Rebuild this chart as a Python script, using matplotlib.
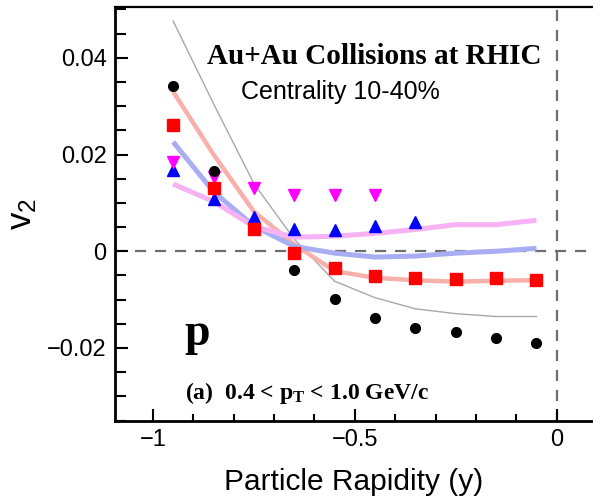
import matplotlib
matplotlib.use("Agg")
import matplotlib.pyplot as plt
from matplotlib.ticker import MultipleLocator
import numpy as np

# ---- data ----
y_rap = [-0.95, -0.85, -0.75, -0.65, -0.55, -0.45, -0.35, -0.25, -0.15, -0.05]

black_x = [-0.95, -0.85, -0.65, -0.55, -0.45, -0.35, -0.25, -0.15, -0.05]
black_v2 = [0.0342, 0.0166, -0.0039, -0.0098, -0.0137, -0.0158, -0.0168, -0.0180, -0.0190]

red_x = [-0.95, -0.85, -0.75, -0.65, -0.55, -0.45, -0.35, -0.25, -0.15, -0.05]
red_v2 = [0.0262, 0.0130, 0.0045, -0.0004, -0.0035, -0.0051, -0.0055, -0.0057, -0.0055, -0.0059]

blue_x = [-0.95, -0.85, -0.75, -0.65, -0.55, -0.45, -0.35]
blue_v2 = [0.0168, 0.0107, 0.0070, 0.0045, 0.0043, 0.0053, 0.0060]

mag_x = [-0.95, -0.85, -0.75, -0.65, -0.55, -0.45]
mag_v2 = [0.0185, 0.0154, 0.0130, 0.0117, 0.0117, 0.0117]

gray_curve = [0.0476, 0.0305, 0.0140, 0.0025, -0.0062, -0.0096, -0.0119, -0.0129, -0.0135, -0.0135]
red_curve = [0.0330, 0.0200, 0.0082, 0.0014, -0.0041, -0.0055, -0.0060, -0.0063, -0.0061, -0.0060]
blue_curve = [0.0226, 0.0123, 0.0052, 0.0010, -0.0004, -0.0012, -0.0010, -0.0004, 0.0000, 0.0006]
pink_curve = [0.0139, 0.0103, 0.0051, 0.0029, 0.0031, 0.0037, 0.0045, 0.0055, 0.0055, 0.0064]

plt.rcParams['font.family'] = ['Liberation Sans', 'DejaVu Sans']
plt.rcParams['mathtext.default'] = 'regular'

fig = plt.figure(figsize=(5.93, 5.0), dpi=100)
ax = fig.add_axes([0.194, 0.158, 0.806, 0.828])

# model curves
ax.plot(y_rap, gray_curve, color='#a8a8a8', lw=1.0, zorder=2)
ax.plot(y_rap, red_curve, color='#f7b0aa', lw=3.2, solid_capstyle='butt', zorder=2)
ax.plot(y_rap, blue_curve, color='#a9aef2', lw=3.6, solid_capstyle='butt', zorder=2)
ax.plot(y_rap, pink_curve, color='#f6b2f4', lw=3.6, solid_capstyle='butt', zorder=2)

# reference lines
ax.axhline(0, color='#6e6e6e', lw=1.6, ls=(0, (5, 4)), zorder=1)
ax.axvline(0, color='#6e6e6e', lw=1.6, ls=(0, (5, 4)), zorder=1)

# data points
ax.plot(black_x, black_v2, 'o', color='black', ms=7, zorder=5)
ax.plot(red_x, red_v2, 's', color='#ff0000', ms=8, zorder=5)
ax.plot(blue_x, blue_v2, '^', color='#0000ff', ms=8, zorder=4)
ax.plot(mag_x, mag_v2, 'v', color='#ff00ff', ms=8, zorder=4)

ax.set_xlim(-1.094, 0.09)
ax.set_ylim(-0.0351, 0.0505)

ax.xaxis.set_minor_locator(MultipleLocator(0.1))
ax.yaxis.set_minor_locator(MultipleLocator(0.005))

ax.set_xticks([-1, -0.5, 0])
ax.set_xticklabels(['\u22121', '\u22120.5', '0'])
ax.set_yticks([-0.02, 0, 0.02, 0.04])
ax.set_yticklabels(['\u22120.02', '0', '0.02', '0.04'])

ax.tick_params(axis='both', which='major', direction='in', length=9, width=1.5,
               labelsize=17, pad=6, top=False, right=False)
ax.tick_params(axis='x', which='minor', direction='in', length=5, width=1.5, top=False)
ax.tick_params(axis='y', which='minor', direction='in', length=8, width=1.5, right=False)

ax.spines['right'].set_visible(False)
ax.spines['left'].set_linewidth(2)
ax.spines['bottom'].set_linewidth(2)
ax.spines['top'].set_linewidth(1.6)

ax.set_xlabel('Particle Rapidity (y)', fontsize=21.5, labelpad=12)
ax.set_ylabel('v$_2$', fontsize=25, labelpad=6)

serif = ['Liberation Serif', 'DejaVu Serif']
ax.text(-0.453, 0.0402, 'Au+Au Collisions at RHIC', family=serif, fontweight='bold',
        fontsize=21, ha='center', va='center')
ax.text(-0.535, 0.0330, 'Centrality 10-40%', fontsize=18, ha='center', va='center')
ax.text(-0.891, -0.0172, 'p', family=serif, fontweight='bold', fontsize=33,
        ha='center', va='center')
ax.text(-0.92, -0.0293, '(a)  0.4 < p$_{T}$ < 1.0 GeV/c', family=serif,
        fontweight='bold', fontsize=17, ha='left', va='center')

fig.savefig('out.png', dpi=100)
